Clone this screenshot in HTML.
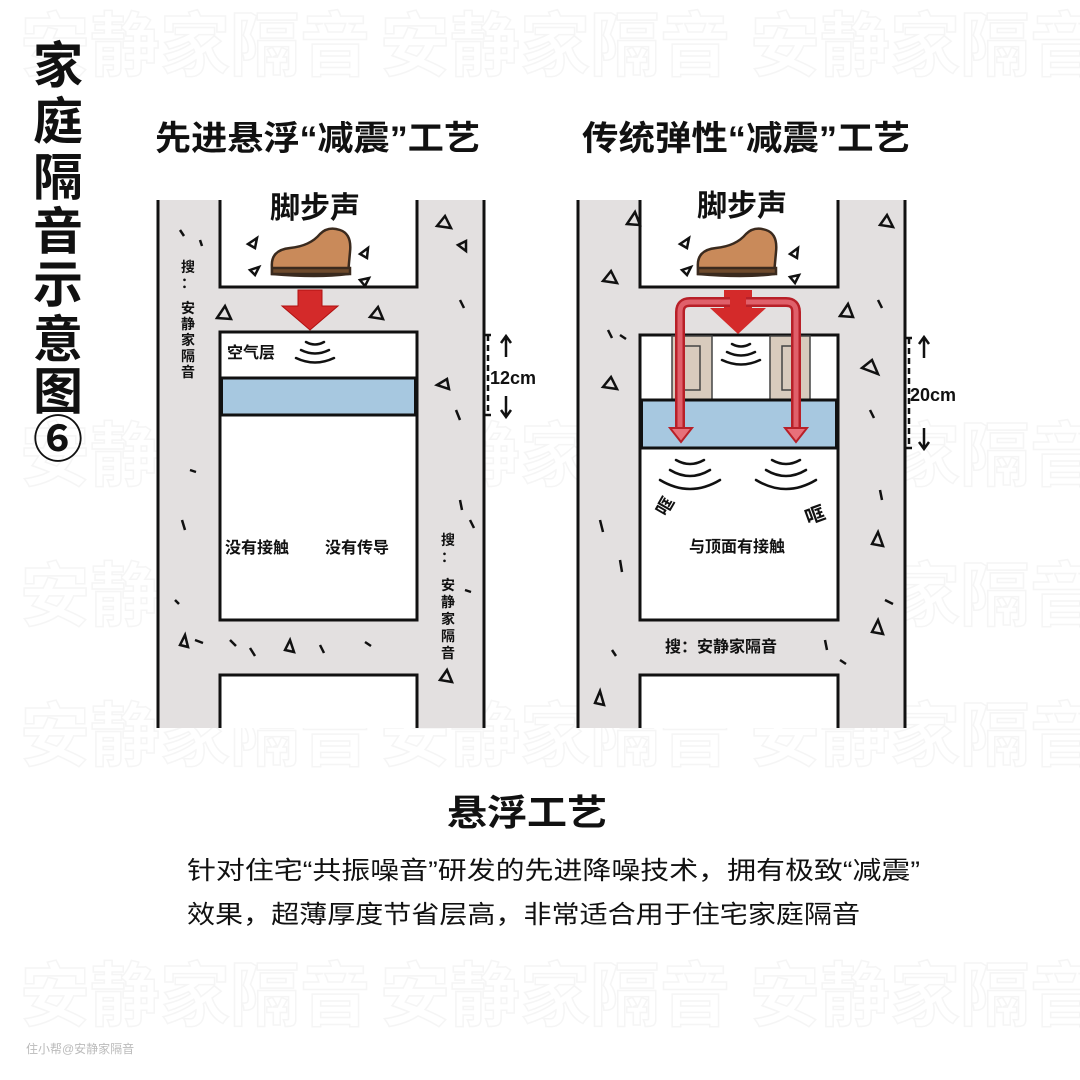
<!DOCTYPE html>
<html><head><meta charset="utf-8"><style>
html,body{margin:0;padding:0;background:#fff}
svg{display:block}
text{font-family:"Liberation Sans","Noto Sans CJK SC",sans-serif}
</style></head><body>
<svg width="1080" height="1080" viewBox="0 0 1080 1080" xmlns="http://www.w3.org/2000/svg">
<rect width="1080" height="1080" fill="#fff"/>
<!-- faint watermark -->
<g fill="none" stroke="#f5f5f5" stroke-width="1.5" font-size="70" font-weight="bold">
<text x="20" y="70">安静家隔音</text><text x="380" y="70">安静家隔音</text><text x="750" y="70">安静家隔音</text>
<text x="20" y="480">安静家隔音</text><text x="380" y="480">安静家隔音</text><text x="750" y="480">安静家隔音</text>
<text x="20" y="620">安静家隔音</text><text x="750" y="620">安静家隔音</text>
<text x="20" y="760">安静家隔音</text><text x="380" y="760">安静家隔音</text><text x="750" y="760">安静家隔音</text>
<text x="20" y="1020">安静家隔音</text><text x="380" y="1020">安静家隔音</text><text x="750" y="1020">安静家隔音</text>
</g>
<!-- vertical title -->
<g font-size="50" font-weight="bold" fill="#111" text-anchor="middle">
<text x="58" y="83">家</text><text x="58" y="139">庭</text><text x="58" y="195">隔</text><text x="58" y="249">音</text>
<text x="58" y="302">示</text><text x="58" y="357">意</text><text x="58" y="409">图</text><text x="58" y="457">⑥</text>
</g>
<!-- headings -->
<text x="155" y="150" font-size="34" font-weight="bold" fill="#111" textLength="325" lengthAdjust="spacingAndGlyphs">先进悬浮“减震”工艺</text>
<text x="582" y="150" font-size="34" font-weight="bold" fill="#111" textLength="328" lengthAdjust="spacingAndGlyphs">传统弹性“减震”工艺</text>

<!-- LEFT structure -->
<rect x="158" y="200" width="326" height="528" fill="#e3e0e0"/>
<g fill="#fff" stroke="#111" stroke-width="3">
<path d="M220 200 V287 H417 V200" />
<rect x="220" y="332" width="197" height="288"/>
<path d="M220 728 V675 H417 V728"/>
</g>
<rect x="221.5" y="378" width="194" height="37" fill="#a7c8e0" stroke="#111" stroke-width="3"/>
<line x1="158" y1="200" x2="158" y2="728" stroke="#111" stroke-width="3"/>
<line x1="484" y1="200" x2="484" y2="728" stroke="#111" stroke-width="3"/>
<!-- RIGHT structure -->
<rect x="578" y="200" width="327" height="528" fill="#e3e0e0"/>
<g fill="#fff" stroke="#111" stroke-width="3">
<path d="M640 200 V287 H838 V200" />
<rect x="640" y="335" width="198" height="285"/>
<path d="M640 728 V675 H838 V728"/>
</g>
<rect x="672" y="336" width="40" height="64" fill="#d8cbbd" stroke="#444" stroke-width="1.5"/>
<rect x="684" y="346" width="16" height="44" fill="none" stroke="#444" stroke-width="1.5"/>
<rect x="770" y="336" width="40" height="64" fill="#d8cbbd" stroke="#444" stroke-width="1.5"/>
<rect x="782" y="346" width="16" height="44" fill="none" stroke="#444" stroke-width="1.5"/>
<rect x="641.5" y="400" width="195" height="48" fill="#a7c8e0" stroke="#111" stroke-width="3"/>
<line x1="578" y1="200" x2="578" y2="728" stroke="#111" stroke-width="3"/>
<line x1="905" y1="200" x2="905" y2="728" stroke="#111" stroke-width="3"/>

<!-- speckles -->
<g fill="none" stroke="#111" stroke-width="2.5">
<path d="M217 318 l8 -12 l6 13 z M370 317 l8 -10 l5 12 z M437 226 l8 -10 l6 12 z M437 385 l10 -6 l2 10 z M180 645 l5 -10 l3 12 z M285 650 l5 -10 l4 12 z M440 680 l7 -10 l5 12 z"/>
<path d="M627 224 l8 -12 l5 13 z M603 281 l8 -10 l6 12 z M603 387 l8 -10 l6 12 z M840 316 l8 -12 l5 13 z M862 368 l10 -8 l6 14 z M880 225 l7 -10 l6 12 z M872 544 l6 -12 l5 14 z M872 632 l6 -12 l5 14 z M595 703 l5 -12 l4 14 z M458 245 l8 -4 l0 10 z"/>
<path d="M180 230 l4 6 M200 240 l2 6 M182 520 l3 10 M195 640 l8 3 M230 640 l6 6 M250 648 l5 8 M320 645 l4 8 M365 642 l6 4 M460 300 l4 8 M456 410 l4 10 M460 500 l2 10 M470 520 l4 8 M465 590 l6 2 M190 470 l6 2 M175 600 l4 4 M600 520 l3 12 M620 560 l2 12 M612 650 l4 6 M878 300 l4 8 M870 410 l4 8 M880 490 l2 10 M885 600 l8 4 M608 330 l4 8 M620 335 l6 4 M825 640 l2 10 M840 660 l6 4"/>
</g>

<!-- shoes -->
<g stroke="#3a2a1e" stroke-width="2.5">
<path d="M272 268 q-2 -18 18 -20 q20 -2 30 -14 q8 -8 20 -4 q12 4 10 22 l-2 22 q-30 4 -76 0 z" fill="#c98a5a"/>
<path d="M272 268 h78 v6 h-78 z" fill="#6e4a2c"/>
<path d="M698 268 q-2 -18 18 -20 q20 -2 30 -14 q8 -8 20 -4 q12 4 10 22 l-2 22 q-30 4 -76 0 z" fill="#c98a5a"/>
<path d="M698 268 h78 v6 h-78 z" fill="#6e4a2c"/>
</g>
<g fill="none" stroke="#111" stroke-width="2.5">
<path d="M248 244 l9 -6 l-2 10 z M250 270 l9 -3 l-4 8 z M360 254 l8 -6 l-1 10 z M360 280 l9 -2 l-4 8 z"/>
<path d="M680 244 l9 -6 l-2 10 z M682 270 l9 -3 l-4 8 z M790 254 l8 -6 l-1 10 z M790 277 l9 -2 l-4 8 z"/>
</g>
<text x="315" y="218" font-size="30" font-weight="bold" text-anchor="middle" fill="#111">脚步声</text>
<text x="742" y="216" font-size="30" font-weight="bold" text-anchor="middle" fill="#111">脚步声</text>

<!-- left red arrow -->
<path d="M298 290 h24 v16 h16 l-28 24 l-28 -24 h16 z" fill="#d42a2a" stroke="#b01010" stroke-width="1"/>
<!-- right red arrows -->
<path d="M724 290 h28 v18 h14 l-28 26 l-28 -26 h14 z" fill="#d42a2a"/>
<path d="M730 302 h-40 q-10 0 -10 10 v118" fill="none" stroke="#b82028" stroke-width="10"/>
<path d="M730 302 h-40 q-10 0 -10 10 v118" fill="none" stroke="#e0606a" stroke-width="5"/>
<path d="M746 302 h40 q10 0 10 10 v118" fill="none" stroke="#b82028" stroke-width="10"/>
<path d="M746 302 h40 q10 0 10 10 v118" fill="none" stroke="#e0606a" stroke-width="5"/>
<path d="M670 428 h22 l-11 14 z M785 428 h22 l-11 14 z" fill="#e8707a" stroke="#b82028" stroke-width="2"/>

<!-- sound arcs -->
<g fill="none" stroke="#111" stroke-width="2.5" stroke-linecap="round">
<path d="M306 342 q9 5 18 0 M301 350 q14 7 28 0 M296 358 q19 9 38 0"/>
<path d="M732 344 q9 5 18 0 M727 352 q14 7 28 0 M722 360 q19 9 38 0"/>
<path d="M676 460 q14 8 28 0 M670 470 q20 12 40 0 M660 480 q30 18 60 0"/>
<path d="M772 460 q14 8 28 0 M766 470 q20 12 40 0 M756 480 q30 18 60 0"/>
</g>

<!-- texts -->
<g fill="#111" font-weight="bold">
<text x="227" y="358" font-size="16">空气层</text>
<text x="225" y="553" font-size="16">没有接触</text>
<text x="325" y="553" font-size="16">没有传导</text>
<text x="689" y="552" font-size="16">与顶面有接触</text>
<text x="665" y="652" font-size="16">搜：安静家隔音</text>
<text x="655" y="512" font-size="18" transform="rotate(-60 665 505)">哐</text>
<text x="805" y="522" font-size="20" transform="rotate(-20 815 515)">哐</text>
</g>
<g font-size="14" font-weight="bold" fill="#111" text-anchor="middle">
<text x="188" y="272">搜</text><text x="188" y="288">：</text><text x="188" y="313">安</text><text x="188" y="329">静</text><text x="188" y="345">家</text><text x="188" y="361">隔</text><text x="188" y="377">音</text>
<text x="448" y="545">搜</text><text x="448" y="562">：</text><text x="448" y="590">安</text><text x="448" y="607">静</text><text x="448" y="624">家</text><text x="448" y="641">隔</text><text x="448" y="658">音</text>
</g>

<!-- dimensions -->
<g stroke="#111" stroke-width="2.5" fill="none">
<path d="M485 335 h6 M485 415 h6 M488 335 v80" stroke-dasharray="6 4"/>
<path d="M506 357 v-20 M501 343 l5 -7 l5 7 M506 396 v20 M501 410 l5 7 l5 -7"/>
<path d="M906 338 h6 M906 448 h6 M909 338 v110" stroke-dasharray="6 4"/>
<path d="M924 358 v-20 M919 344 l5 -7 l5 7 M924 428 v20 M919 442 l5 7 l5 -7"/>
</g>
<text x="490" y="384" font-size="18" font-weight="bold" fill="#111">12cm</text>
<text x="910" y="401" font-size="18" font-weight="bold" fill="#111">20cm</text>

<!-- bottom -->
<text x="447" y="825" font-size="36" font-weight="bold" fill="#111" textLength="160" lengthAdjust="spacingAndGlyphs">悬浮工艺</text>
<text x="187" y="879" font-size="25" fill="#111" textLength="733" lengthAdjust="spacingAndGlyphs">针对住宅“共振噪音”研发的先进降噪技术，拥有极致“减震”</text>
<text x="187" y="923" font-size="25" fill="#111" textLength="673" lengthAdjust="spacingAndGlyphs">效果，超薄厚度节省层高，非常适合用于住宅家庭隔音</text>
<text x="26" y="1053" font-size="12" fill="#bbb">住小帮@安静家隔音</text>
</svg>
</body></html>
